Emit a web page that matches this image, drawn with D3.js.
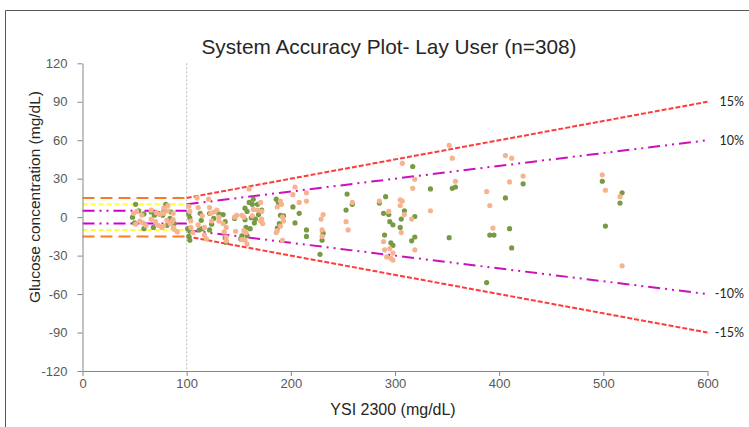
<!DOCTYPE html>
<html lang="en">
<head>
<meta charset="utf-8">
<script src="https://cdn.jsdelivr.net/npm/d3@7"></script>
<style type="text/css">
body { margin: 0; background: #fff; }
.axis text { font: 13px "Liberation Sans", Arial, sans-serif; fill: #595959; }
.axis path, .axis line { stroke: #868686; }
</style>
</head>
<body>
<script type="text/javascript">

// chart size
var width = 749;
var height = 427;

// axis ticks
var xTicks = [0, 100, 200, 300, 400, 500, 600];
var yTicks = [-120, -90, -60, -30, 0, 30, 60, 90, 120];

// meter result bias vs YSI, two lots of points [ysi, bias]
var greenPts = [
  [499,28],[518,19],[516,11],[502,-7],
  [423,26],[406,15],[391,-14],[395,-14],[410,-9],[412,-24],[388,-51],
  [317,39.5],[334,22],[355,22.5],[358,23.5],[291,16],[285,11],[309,5],[289,3],[294,2],
  [319,0.5],[306,-1.5],[295,-3.5],[298,-6],[305,-8],[290,-14],[319,-15.5],[316,-18.5],
  [352,-16],[296,-20],[298,-22],
  [202,8],[208,3],[204,-4.5],[215,-10],[215,-15],[231,-12.5],[230,-18],[228,-29],
  [254,18],[259,10],[253,5.5],
  [164,14],[160,11.5],[163,10],[168,10],[156,7],[158,4.5],[172,5.5],[169,2],[162,-0.5],
  [166,-1.5],[156,-2],[165,-4.5],[157,-8],[161,-9],[153,-14.5],[158,-14.5],[152,-17],
  [186,14],[188,11.5],[190,1.5],[193,1],[189,-5],[187,-8.5],
  [51,10],[54,5],[59,2.5],[69,1.5],[66,4],[79,5],[85,4],[48,0],[50,-4.5],[59,-9],[68,-8],
  [81,-6.5],[84,-1],[88,-5],[80,10],[77,1.5],[73,3],
  [102,2.5],[103,-0.5],[101,-9],[103,-11],[102,-15],[103,-18],
  [113,3],[114,-2.5],[112,-10],[115,-9],[122,3],[126,-1],[124,-5.5],[122,-10],
  [131,2.5],[135,2],[137,-3.5],[137,-16],[138,-19.5],[146,-1]
];

var peachPts = [
  [499,33],[502,21],[516,16],[518,-38],
  [406,48],[412,46],[423,32],[410,27.5],[388,20],[391,9],[394,-8.5],
  [352,56],[355,46],[307,42],[319,29.5],[358,28],[317,22.5],[285,12.5],[305,13.5],[307,12.5],
  [305,9],[334,5],[294,4.5],[309,2],[316,-1.5],[306,-12],[289,-19],[290,-25.5],[295,-24.5],
  [319,-25.5],[298,-28],[292,-31],[296,-32],[298,-33.5],
  [204,23.5],[202,17.5],[215,19],[208,11.5],[215,12.5],[231,2],[229,-1.5],[230,-10],[230,-15],
  [259,11.5],[253,-3.5],[255,-10],
  [160,22],[171,11.5],[164,6],[168,5.5],[172,4.5],[153,1.5],[155,0],[163,1],[172,-1.5],
  [173,-5],[171,-3],[155,-10.5],[157,-12],[156,-18],[153,-17.5],[158,-21],
  [187,8],[191,10],[190,12.5],[193,-3],[192,0],[190,-7],[186,-12],[187,-10.5],[192,-18],
  [110,15],[121,14],[82,9],[49,3],[52,4.5],[57,1.5],[66,5.5],[71,3.5],[74,2],[78,7],[78,3],
  [82,5],[87,3],[87,-2],[86,-3.5],[51,-5.5],[55,-3],[58,-4.5],[61,-6.5],[66,-1.5],[70,-3.5],
  [73,-6.5],[76,-8],[78,-7],[81,-2.5],[84,-5],[88,-9.5],[91,-11.5],[87,-8],
  [102,8.5],[103,4.5],[104,-3],[104,-8],[106,-12],[111,7.5],[115,1],[111,-6],[117,-8],
  [117,-14],[119,-17],[122,7.5],[123,3],[126,4],[124,-3],[129,5.5],[131,0],[131,-3],
  [135,-5],[138,-8],[136,-11.5],[138,-15.5],[138,-18.5],[146,0],[148,1.5],[147,-11]
];

// acceptance limits: +-15/10/5 mg/dL below 100, +-15%/10% above
var absLimits = [15, 10, 5, -5, -10, -15];
var pctLimits = [15, 10, -10, -15];
var pctLabels = ["15%", "10%", "-10%", "-15%"];

var svg = d3.select("body")
  .append("svg")
  .attr("width", width)
  .attr("height", height);

svg.append("rect").attr("width", width).attr("height", height).attr("fill", "#fff");

// outer frame (top + left)
svg.append("path")
  .attr("d", "M5.5,427 V10.5 H749")
  .attr("fill", "none")
  .attr("stroke", "#595959")
  .attr("stroke-width", 1);

var x = d3.scaleLinear().domain([0, 600]).range([82.5, 707.5]);
var y = d3.scaleLinear().domain([-120, 120]).range([371, 63.3]);

// dotted line at 100 mg/dL
svg.append("line")
  .attr("x1", x(100)).attr("x2", x(100))
  .attr("y1", y(120)).attr("y2", y(-120))
  .attr("stroke", "#bfbfbf")
  .attr("stroke-width", 1)
  .attr("stroke-dasharray", "2,2");

// absolute limits 0-100
function absStyle(v) {
  var a = Math.abs(v);
  if (a == 15) return {c: "#fb7a2a", d: "12,6"};
  if (a == 10) return {c: "#ffff33", d: "5,3"};
  return {c: "#cc00cc", d: "12,5,2,5,2,5"};
}
svg.selectAll(".abs")
  .data(absLimits)
  .enter()
  .append("line")
  .attr("class", "abs")
  .attr("x1", x(0)).attr("x2", x(100))
  .attr("y1", function(d) { return y(d); })
  .attr("y2", function(d) { return y(d); })
  .attr("stroke", function(d) { return absStyle(d).c; })
  .attr("stroke-width", 2)
  .attr("stroke-dasharray", function(d) { return absStyle(d).d; });

// percent limits 100-600
svg.selectAll(".pct")
  .data(pctLimits)
  .enter()
  .append("line")
  .attr("class", "pct")
  .attr("x1", x(100)).attr("x2", x(600))
  .attr("y1", function(d) { return y(d); })
  .attr("y2", function(d) { return y(600 * d / 100); })
  .attr("stroke", function(d) { return Math.abs(d) == 15 ? "#ff3b3b" : "#cc11bb"; })
  .attr("stroke-width", 2)
  .attr("stroke-dasharray", function(d) { return Math.abs(d) == 15 ? "5,2" : "12,5,2,5,2,5"; });

svg.selectAll(".pctlabel")
  .data(pctLimits)
  .enter()
  .append("text")
  .attr("x", 744)
  .attr("y", function(d) { return y(600 * d / 100); })
  .attr("dy", "0.35em")
  .attr("text-anchor", "end")
  .style("font", "12.5px Lato, 'Open Sans', sans-serif")
  .style("fill", "#262626")
  .text(function(d, i) { return pctLabels[i]; });

// points
svg.selectAll(".g")
  .data(greenPts)
  .enter()
  .append("circle")
  .attr("class", "g")
  .attr("cx", function(d) { return x(d[0]); })
  .attr("cy", function(d) { return y(d[1]); })
  .attr("r", 2.6)
  .attr("fill", "#779a44");

svg.selectAll(".p")
  .data(peachPts)
  .enter()
  .append("circle")
  .attr("class", "p")
  .attr("cx", function(d) { return x(d[0]); })
  .attr("cy", function(d) { return y(d[1]); })
  .attr("r", 2.6)
  .attr("fill", "#f6b38e");

// axes (plain hyphen for negatives, like the original)
var fmt = function(d) { return String(d); };

svg.append("g")
  .attr("class", "axis")
  .attr("transform", "translate(0," + y(-120) + ")")
  .call(d3.axisBottom(x).tickValues(xTicks).tickFormat(fmt).tickSize(5).tickSizeOuter(0).tickPadding(3));

svg.append("g")
  .attr("class", "axis")
  .attr("transform", "translate(" + x(0) + ",0)")
  .call(d3.axisLeft(y).tickValues(yTicks).tickFormat(fmt).tickSize(5).tickSizeOuter(0).tickPadding(10));

// titles
svg.append("text")
  .attr("x", 389)
  .attr("y", 54)
  .attr("text-anchor", "middle")
  .style("font", "20.8px 'Liberation Sans', Arial, sans-serif")
  .style("fill", "#262626")
  .text("System Accuracy Plot- Lay User (n=308)");

svg.append("text")
  .attr("x", 393)
  .attr("y", 415)
  .attr("text-anchor", "middle")
  .style("font", "16px 'Liberation Sans', Arial, sans-serif")
  .style("fill", "#262626")
  .text("YSI 2300 (mg/dL)");

svg.append("text")
  .attr("transform", "translate(40,197) rotate(-90)")
  .attr("text-anchor", "middle")
  .style("font", "15.5px 'Liberation Sans', Arial, sans-serif")
  .style("fill", "#262626")
  .text("Glucose concentration (mg/dL)");

</script>
</body>
</html>
